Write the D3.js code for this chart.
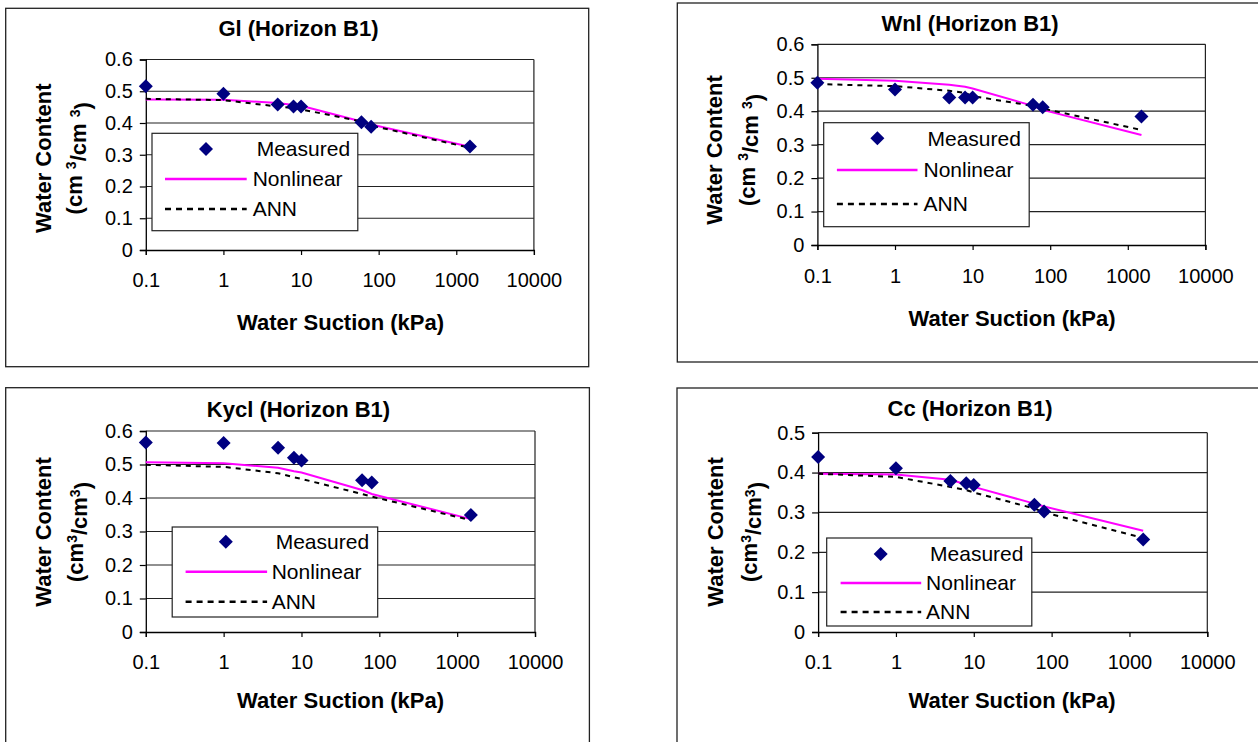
<!DOCTYPE html>
<html><head><meta charset="utf-8">
<script src="https://cdn.jsdelivr.net/npm/d3@7"></script>
<style>
body{margin:0;background:#fff}
svg{display:block}
text{font-family:Arial,"Liberation Sans",sans-serif;fill:#000}
</style>
</head><body>
<svg id="chart" width="1258" height="742"></svg>
<script>
// ---- data ----
const suction = [0.1, 1, 5, 8, 10, 60, 80, 1500];
const xTicks = [0.1, 1, 10, 100, 1000, 10000];
const xTickLabels = ["0.1", "1", "10", "100", "1000", "10000"];
const titles = ["Gl (Horizon B1)", "Wnl (Horizon B1)", "Kycl (Horizon B1)", "Cc (Horizon B1)"];
const seriesNames = ["Measured", "Nonlinear", "ANN"];
const yTicks6 = [0, 0.1, 0.2, 0.3, 0.4, 0.5, 0.6];
const yTicks5 = [0, 0.1, 0.2, 0.3, 0.4, 0.5];
const xTitle = "Water Suction (kPa)";
const yTitle = "Water Content";

const glMeasured  = [0.516, 0.492, 0.458, 0.452, 0.452, 0.402, 0.388, 0.326];
const glNonlinear = [0.474, 0.473, 0.463, 0.457, 0.454, 0.405, 0.395, 0.325];
const glANN       = [0.476, 0.472, 0.452, 0.447, 0.443, 0.405, 0.392, 0.322];

const wnlMeasured  = [0.485, 0.465, 0.441, 0.441, 0.441, 0.419, 0.412, 0.384];
const wnlNonlinear = [0.497, 0.491, 0.479, 0.473, 0.468, 0.416, 0.404, 0.329];
const wnlANN       = [0.481, 0.475, 0.461, 0.455, 0.445, 0.416, 0.408, 0.344];

const kyclMeasured  = [0.566, 0.564, 0.550, 0.520, 0.512, 0.453, 0.446, 0.349];
const kyclNonlinear = [0.507, 0.504, 0.490, 0.480, 0.476, 0.424, 0.412, 0.337];
const kyclANN       = [0.499, 0.493, 0.474, 0.462, 0.457, 0.412, 0.404, 0.334];

const ccMeasured  = [0.439, 0.411, 0.379, 0.373, 0.369, 0.319, 0.302, 0.232];
const ccNonlinear = [0.397, 0.395, 0.382, 0.370, 0.364, 0.322, 0.315, 0.254];
const ccANN       = [0.397, 0.389, 0.364, 0.356, 0.350, 0.310, 0.300, 0.236];

// ---- layout (positions only) ----
const layout = [
  {border:[5.7,8.3,583,358.4], plot:{l:145.8,r:533.9,t:59.5,b:250}, title:[298.5,28.3], xlab:280, xt:[340.6,322.7],
   yt:[42.9,74.6,158.3], sup:" ", leg:{x:152,y:133.3,w:205.8,h:97.4,rows:[149,179,209],m:206,l:[165,246.7],t:252.7}},
  {border:[677.3,3,590,359], plot:{l:817.4,r:1205.4,t:44.3,b:245}, title:[970,23.3], xlab:276, xt:[1012,318.3],
   yt:[714.2,746.9,150], sup:" ", leg:{x:823.7,y:122.7,w:205.5,h:104,rows:[138.3,170,204],m:877.4,l:[836.9,917.5],t:923.5}},
  {border:[5.7,387.7,583.7,400], plot:{l:145.8,r:535,t:431,b:632}, title:[298.5,409], xlab:662, xt:[340.6,700],
   yt:[42.9,75.4,532], sup:"", leg:{x:172.2,y:527,w:205.5,h:90,rows:[541.7,571.7,601.7],m:225.8,l:[185.6,267.1],t:271.7}},
  {border:[677,388,590,400], plot:{l:818.1,r:1207.3,t:432.7,b:632}, title:[970,408], xlab:662, xt:[1012,700],
   yt:[715.7,749.5,532], sup:"", leg:{x:826.7,y:538,w:205.1,h:88,rows:[554,583,612],m:880.7,l:[840.6,921.2],t:926.1}}
];

const panels = [
  {measured: glMeasured, nonlinear: glNonlinear, ann: glANN, yTicks: yTicks6},
  {measured: wnlMeasured, nonlinear: wnlNonlinear, ann: wnlANN, yTicks: yTicks6},
  {measured: kyclMeasured, nonlinear: kyclNonlinear, ann: kyclANN, yTicks: yTicks6},
  {measured: ccMeasured, nonlinear: ccNonlinear, ann: ccANN, yTicks: yTicks5}
];

const NAVY = "#000080", MAGENTA = "#FF00FF";
const svg = d3.select("#chart");
const diamond = d3.symbol().type(d3.symbolDiamond2 || d3.symbolDiamond);

function diamondPath(cx, cy, r) {
  return `M${cx},${cy-r}L${cx+r},${cy}L${cx},${cy+r}L${cx-r},${cy}Z`;
}

panels.forEach((p, i) => {
  const L = layout[i];
  const g = svg.append("g");
  const yMax = p.yTicks[p.yTicks.length - 1];
  const x = d3.scaleLog().domain([xTicks[0], xTicks[xTicks.length-1]]).range([L.plot.l, L.plot.r]);
  const y = d3.scaleLinear().domain([0, yMax]).range([L.plot.b, L.plot.t]);

  // panel border
  g.append("rect").attr("x", L.border[0]).attr("y", L.border[1]).attr("width", L.border[2]).attr("height", L.border[3])
    .attr("fill", "#fff").attr("stroke", "#222").attr("stroke-width", 1.3);

  // gridlines
  g.append("g").selectAll("line").data(p.yTicks.slice(1)).join("line")
    .attr("x1", L.plot.l).attr("x2", L.plot.r)
    .attr("y1", d => y(d)).attr("y2", d => y(d))
    .attr("stroke", "#222").attr("stroke-width", 1.2);
  // right border of plot area
  g.append("line").attr("x1", L.plot.r).attr("x2", L.plot.r).attr("y1", L.plot.t).attr("y2", L.plot.b)
    .attr("stroke", "#222").attr("stroke-width", 1.2);

  // y axis
  const yAxis = d3.axisLeft(y).tickValues(p.yTicks).tickSize(6).tickPadding(7)
    .tickFormat(d => d === 0 ? "0" : d3.format(".1f")(d));
  const ya = g.append("g").attr("transform", `translate(${L.plot.l},0)`).call(yAxis);
  ya.select(".domain").attr("stroke", "#000").attr("stroke-width", 1.3);
  ya.selectAll(".tick line").attr("stroke", "#000").attr("stroke-width", 1.2);
  ya.selectAll(".tick text").attr("font-size", 20).attr("font-family", "Arial, 'Liberation Sans', sans-serif");

  // x axis
  const xAxis = d3.axisBottom(x).tickValues(xTicks).tickSize(5).tickFormat((d, k) => xTickLabels[k]);
  const xa = g.append("g").attr("transform", `translate(0,${L.plot.b})`).call(xAxis);
  xa.select(".domain").attr("stroke", "#000").attr("stroke-width", 1.3);
  xa.selectAll(".tick line").attr("stroke", "#000").attr("stroke-width", 1.2);
  xa.selectAll(".tick text").attr("font-size", 20).attr("font-family", "Arial, 'Liberation Sans', sans-serif")
    .attr("y", L.xlab - L.plot.b).attr("dy", "0.35em");

  // lines
  const line = d3.line().x((d, k) => x(suction[k])).y(d => y(d));
  g.append("path").datum(p.nonlinear).attr("d", line).attr("fill", "none")
    .attr("stroke", MAGENTA).attr("stroke-width", 2);
  g.append("path").datum(p.ann).attr("d", line).attr("fill", "none")
    .attr("stroke", "#000").attr("stroke-width", 2).attr("stroke-dasharray", "5,5");

  // measured markers
  g.append("g").selectAll("path").data(p.measured).join("path")
    .attr("d", (d, k) => diamondPath(x(suction[k]), y(d), 7))
    .attr("fill", NAVY);

  // legend
  const lg = L.leg;
  g.append("rect").attr("x", lg.x).attr("y", lg.y).attr("width", lg.w).attr("height", lg.h)
    .attr("fill", "#fff").attr("stroke", "#222").attr("stroke-width", 1.2);
  g.append("path").attr("d", diamondPath(lg.m, lg.rows[0], 7)).attr("fill", NAVY);
  g.append("line").attr("x1", lg.l[0]).attr("x2", lg.l[1]).attr("y1", lg.rows[1]).attr("y2", lg.rows[1])
    .attr("stroke", MAGENTA).attr("stroke-width", 2.5);
  g.append("line").attr("x1", lg.l[0]).attr("x2", lg.l[1]).attr("y1", lg.rows[2]).attr("y2", lg.rows[2])
    .attr("stroke", "#000").attr("stroke-width", 2.5).attr("stroke-dasharray", "6,5");
  seriesNames.forEach((nm, k) => {
    g.append("text").attr("x", k === 0 ? lg.t + 4 : lg.t).attr("y", lg.rows[k]).attr("dy", "0.35em")
      .attr("font-size", 21).text(nm);
  });

  // title
  g.append("text").attr("x", L.title[0]).attr("y", L.title[1]).attr("dy", "0.35em")
    .attr("text-anchor", "middle").attr("font-size", 22).attr("font-weight", "bold").text(titles[i]);

  // x title
  g.append("text").attr("x", L.xt[0]).attr("y", L.xt[1]).attr("dy", "0.35em")
    .attr("text-anchor", "middle").attr("font-size", 22).attr("font-weight", "bold").text(xTitle);

  // y title (two lines, rotated)
  g.append("text").attr("transform", `translate(${L.yt[0]},${L.yt[2]}) rotate(-90)`).attr("dy", "0.35em")
    .attr("text-anchor", "middle").attr("font-size", 22).attr("font-weight", "bold").text(yTitle);
  const t2 = g.append("text").attr("transform", `translate(${L.yt[1]},${L.yt[2]}) rotate(-90)`).attr("dy", "0.35em")
    .attr("text-anchor", "middle").attr("font-size", 22).attr("font-weight", "bold");
  t2.append("tspan").text("(cm" + L.sup);
  t2.append("tspan").attr("font-size", 14).attr("dy", "-0.45em").text("3");
  t2.append("tspan").attr("dy", "0.45em").text("/cm" + L.sup);
  t2.append("tspan").attr("font-size", 14).attr("dy", "-0.45em").text("3");
  t2.append("tspan").attr("dy", "0.45em").text(")");
});
</script>
</body></html>
